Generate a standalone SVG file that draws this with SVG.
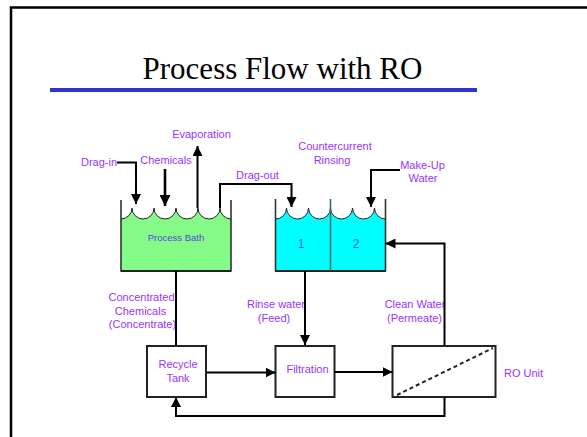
<svg xmlns="http://www.w3.org/2000/svg" width="587" height="437" viewBox="0 0 587 437">
<defs>
<marker id="ah" markerUnits="userSpaceOnUse" markerWidth="10" markerHeight="10" viewBox="0 0 10 10" refX="10" refY="5" orient="auto">
<path d="M0,0 L10,5 L0,10 Z" fill="#000"/>
</marker>
<marker id="ahb" markerUnits="userSpaceOnUse" markerWidth="11" markerHeight="11" viewBox="0 0 10 10" refX="10" refY="5" orient="auto">
<path d="M0,0 L10,5 L0,10 Z" fill="#000"/>
</marker>
</defs>
<style>
.lbl{font-family:"Liberation Sans",Arial,sans-serif;font-size:11px;fill:#9933ff;text-anchor:middle}
.in{font-family:"Liberation Sans",Arial,sans-serif;font-size:9.5px;fill:#5b3fe0;text-anchor:middle}
.num{font-family:"Liberation Sans",Arial,sans-serif;font-size:12px;fill:#3a55e8;text-anchor:middle}
.box{fill:#fff;stroke:#222;stroke-width:2}
.wall{fill:none;stroke:#333;stroke-width:1.6}
.wave{fill:none;stroke:#222;stroke-width:1}
.con{fill:none;stroke:#000;stroke-width:2}
.arr{fill:none;stroke:#000;stroke-width:2;marker-end:url(#ah)}
.arrb{fill:none;stroke:#000;stroke-width:2.6;marker-end:url(#ahb)}
</style>
<rect width="587" height="437" fill="#fff"/>
<path d="M11,437 L11,7.5 L587,7.5" fill="none" stroke="#000" stroke-width="2.5"/>
<text x="282.5" y="79" font-family="Liberation Serif,Times New Roman,serif" font-size="31" text-anchor="middle" fill="#000">Process Flow with RO</text>
<line x1="50" y1="90" x2="477" y2="90" stroke="#3232d2" stroke-width="4"/>

<g id="process-bath">
<path d="M121,219 A11 11 0 0 0 132,208 A11 11 0 0 0 154,208 A11 11 0 0 0 176,208 A11 11 0 0 0 198,208 A11 11 0 0 0 220,208 A11 11 0 0 0 231,219 L231,271 L121,271 Z" fill="#86fa86"/>
<path class="wave" d="M121,219 A11 11 0 0 0 132,208 A11 11 0 0 0 154,208 A11 11 0 0 0 176,208 A11 11 0 0 0 198,208 A11 11 0 0 0 220,208 A11 11 0 0 0 231,219"/>
<path class="wall" d="M121,200 L121,271 L231,271 L231,200"/>
<line x1="121" y1="271" x2="231" y2="271" stroke="#222" stroke-width="2"/>
<text class="in" x="176" y="241">Process Bath</text>
</g>

<g id="rinse-tanks">
<path d="M275.5,219 A11 11 0 0 0 286.5,208 A11 11 0 0 0 308.5,208 A11 11 0 0 0 330.5,208 A11 11 0 0 0 352.5,208 A11 11 0 0 0 374.5,208 A11 11 0 0 0 385.5,219 L385.5,271 L275.5,271 Z" fill="#00ffff"/>
<path class="wave" d="M275.5,219 A11 11 0 0 0 286.5,208 A11 11 0 0 0 308.5,208 A11 11 0 0 0 330.5,208 A11 11 0 0 0 352.5,208 A11 11 0 0 0 374.5,208 A11 11 0 0 0 385.5,219"/>
<path class="wall" d="M275.5,199 L275.5,271 L385.5,271 L385.5,199"/>
<line x1="275.5" y1="271" x2="385.5" y2="271" stroke="#222" stroke-width="2"/>
<line x1="330.5" y1="199" x2="330.5" y2="271" stroke="#2f6f6f" stroke-width="1.6"/>
<text class="num" x="301" y="248">1</text>
<text class="num" x="356" y="248">2</text>
</g>

<g id="recycle-tank">
<rect class="box" x="147" y="346" width="59" height="51"/>
<text class="lbl" x="178" y="368">Recycle</text>
<text class="lbl" x="178" y="381.5">Tank</text>
</g>

<g id="filtration">
<rect class="box" x="275.5" y="346" width="59" height="51"/>
<text class="lbl" x="307.5" y="373">Filtration</text>
</g>

<g id="ro-unit">
<rect class="box" x="392.5" y="346" width="103" height="51"/>
<line x1="397" y1="395" x2="493" y2="348" stroke="#222" stroke-width="2" stroke-dasharray="4,3"/>
<text class="lbl" x="523.5" y="376.5">RO Unit</text>
</g>

<g id="labels">
<text class="lbl" x="99" y="165.5">Drag-in</text>
<text class="lbl" x="166" y="164">Chemicals</text>
<text class="lbl" x="201.5" y="138">Evaporation</text>
<text class="lbl" x="257.5" y="179">Drag-out</text>
<text class="lbl" x="335" y="150">Countercurrent</text>
<text class="lbl" x="332" y="164">Rinsing</text>
<text class="lbl" x="422.5" y="169">Make-Up</text>
<text class="lbl" x="423" y="182">Water</text>
<text class="lbl" x="141.5" y="301">Concentrated</text>
<text class="lbl" x="140.5" y="315">Chemicals</text>
<text class="lbl" x="142.5" y="328">(Concentrate)</text>
<text class="lbl" x="276" y="308">Rinse water</text>
<text class="lbl" x="274" y="322">(Feed)</text>
<text class="lbl" x="415" y="308">Clean Water</text>
<text class="lbl" x="414.5" y="322">(Permeate)</text>
</g>

<g id="connectors">
<path class="arr" d="M117,162.5 L136,162.5 L136,204"/>
<path class="arrb" d="M165,169 L165,206"/>
<path class="arr" d="M197.5,208 L197.5,146"/>
<path class="arr" d="M220,208 L220,184 L291.5,184 L291.5,207"/>
<path class="arr" d="M400,170 L371,170 L371,207"/>
<path class="arr" d="M444.5,346 L444.5,243.5 L385.5,243.5"/>
<path class="con" d="M176,271 L176,346"/>
<path class="arr" d="M305,271 L305,345"/>
<path class="arr" d="M206,372.5 L275.5,372.5"/>
<path class="arr" d="M334.5,372 L392.5,372"/>
<path class="arr" d="M444.5,397 L444.5,416 L176,416 L176,397"/>
</g>
</svg>
